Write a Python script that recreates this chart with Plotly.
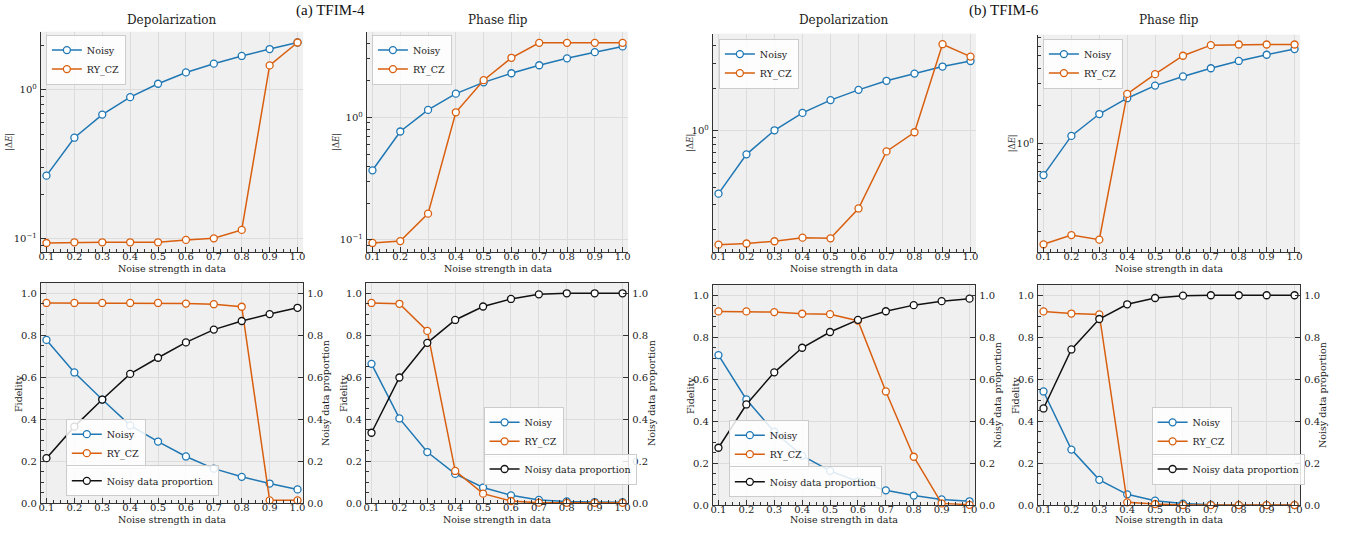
import math
import plotly.graph_objects as go

W, H = 1351, 535

# ---------------- data ----------------
noise_strength = [0.1, 0.2, 0.3, 0.4, 0.5, 0.6, 0.7, 0.8, 0.9, 1.0]

# |ΔE| (top row)
de_tfim4_dep_noisy = [0.266, 0.478, 0.683, 0.894, 1.10, 1.31, 1.50, 1.69, 1.88, 2.08]
de_tfim4_dep_rycz = [0.094, 0.095, 0.095, 0.095, 0.095, 0.0986, 0.101, 0.115, 1.46, 2.08]
de_tfim4_pf_noisy = [0.370, 0.767, 1.15, 1.56, 1.93, 2.29, 2.66, 3.03, 3.40, 3.79]
de_tfim4_pf_rycz = [0.0946, 0.098, 0.164, 1.10, 2.01, 3.06, 4.05, 4.05, 4.05, 4.05]
de_tfim6_dep_noisy = [0.360, 0.683, 1.01, 1.34, 1.65, 1.95, 2.26, 2.54, 2.85, 3.12]
de_tfim6_dep_rycz = [0.157, 0.160, 0.166, 0.176, 0.174, 0.283, 0.716, 0.978, 4.10, 3.35]
de_tfim6_pf_noisy = [0.560, 1.15, 1.72, 2.30, 2.90, 3.43, 3.99, 4.56, 5.11, 5.67]
de_tfim6_pf_rycz = [0.157, 0.186, 0.171, 2.49, 3.58, 5.02, 6.10, 6.17, 6.17, 6.17]

# Fidelity (bottom row)
fid_tfim4_dep_noisy = [0.778, 0.623, 0.494, 0.371, 0.294, 0.223, 0.165, 0.126, 0.094, 0.066]
fid_tfim4_dep_rycz = [0.954, 0.954, 0.954, 0.954, 0.954, 0.951, 0.948, 0.936, 0.014, 0.014]
prop_tfim4_dep = [0.215, 0.365, 0.494, 0.616, 0.693, 0.766, 0.827, 0.868, 0.901, 0.931]
fid_tfim4_pf_noisy = [0.664, 0.404, 0.244, 0.140, 0.075, 0.038, 0.016, 0.009, 0.006, 0.005]
fid_tfim4_pf_rycz = [0.954, 0.950, 0.821, 0.154, 0.046, 0.011, 0.003, 0.002, 0.002, 0.002]
prop_tfim4_pf = [0.336, 0.599, 0.764, 0.873, 0.937, 0.973, 0.995, 1.0, 1.0, 1.0]
fid_tfim6_dep_noisy = [0.715, 0.504, 0.350, 0.236, 0.164, 0.113, 0.071, 0.046, 0.028, 0.019]
fid_tfim6_dep_rycz = [0.923, 0.923, 0.920, 0.912, 0.910, 0.879, 0.542, 0.231, 0.009, 0.002]
prop_tfim6_dep = [0.274, 0.480, 0.633, 0.750, 0.825, 0.883, 0.924, 0.953, 0.972, 0.984]
fid_tfim6_pf_noisy = [0.542, 0.265, 0.121, 0.052, 0.022, 0.008, 0.003, 0.001, 0.001, 0.001]
fid_tfim6_pf_rycz = [0.923, 0.913, 0.909, 0.014, 0.006, 0.001, 0.001, 0.001, 0.001, 0.001]
prop_tfim6_pf = [0.461, 0.742, 0.887, 0.957, 0.987, 0.998, 1.0, 1.0, 1.0, 1.0]

x_tick_vals = [0.1, 0.2, 0.3, 0.4, 0.5, 0.6, 0.7, 0.8, 0.9, 1.0]
x_tick_text = ["0.1", "0.2", "0.3", "0.4", "0.5", "0.6", "0.7", "0.8", "0.9", "1.0"]
log_tick_vals = [0.1, 1, 10]
log_tick_text = ["10<sup>\u22121</sup>", "10<sup>0</sup>", "10<sup>1</sup>"]
log_minor_vals = [m * d for d in (0.01, 0.1, 1) for m in range(2, 10)]
lin_tick_vals = [0.0, 0.2, 0.4, 0.6, 0.8, 1.0]
lin_tick_text = ["0.0", "0.2", "0.4", "0.6", "0.8", "1.0"]

subplot_titles = ["Depolarization", "Phase flip", "Depolarization", "Phase flip"]
group_titles = ["(a) TFIM-4", "(b) TFIM-6"]

# ---------------- style ----------------
BLUE = "#1f77b4"
ORANGE = "#d95f0e"
BLACK = "#111111"
FONT = "DejaVu Serif"
AX = "#333333"
GRID = "#dcdcdc"
TXT = "#222222"

# panel boxes in pixels: left, right, top, bottom
top_boxes = [(39, 302, 32, 255), (366, 628, 32, 255), (713, 977, 34, 255), (1039, 1302, 35, 255)]
bot_boxes = [(39, 302, 286, 509), (365, 628, 286, 509), (713, 976, 288, 511), (1039, 1302, 288, 511)]
top_ranges = [(0.0816, 2.46), (0.0796, 5.0), (0.139, 4.87), (0.136, 7.4)]
top_legend_pos = [(44, 35), (371, 35), (719, 39), (1044, 39)]
# (x, bottom y) of the two legends in each lower panel
bot_legend_pos = [((64, 474), (64, 502)), ((483, 462), (483, 490)),
                  ((729, 475), (729, 503)), ((1153, 462), (1153, 490))]
ytitle_top_x = [8, 336, 691, 1013]
ytitle_bot_x = [16, 342, 690, 1016]
ytitle_right_x = [324, 651, 998, 1324]


def px_x(a):
    return a / W


def px_y(a):
    return 1 - a / H


top_data = [(de_tfim4_dep_noisy, de_tfim4_dep_rycz), (de_tfim4_pf_noisy, de_tfim4_pf_rycz),
            (de_tfim6_dep_noisy, de_tfim6_dep_rycz), (de_tfim6_pf_noisy, de_tfim6_pf_rycz)]
bot_data = [(fid_tfim4_dep_noisy, fid_tfim4_dep_rycz, prop_tfim4_dep),
            (fid_tfim4_pf_noisy, fid_tfim4_pf_rycz, prop_tfim4_pf),
            (fid_tfim6_dep_noisy, fid_tfim6_dep_rycz, prop_tfim6_dep),
            (fid_tfim6_pf_noisy, fid_tfim6_pf_rycz, prop_tfim6_pf)]

fig = go.Figure()
layout = dict(
    width=W, height=H, margin=dict(l=0, r=0, t=0, b=0),
    paper_bgcolor="white", plot_bgcolor="#f0f0f0",
    font=dict(family=FONT, size=10, color=TXT),
    showlegend=True,
)
annotations = []


def text_at(text, cx, cy, size, angle=0, family=FONT, color=TXT):
    annotations.append(dict(text=text, x=px_x(cx), y=px_y(cy), xref="paper", yref="paper",
                            xanchor="center", yanchor="middle", showarrow=False,
                            textangle=angle, font=dict(size=size, family=family, color=color)))


def line_trace(x, y, name, color, xa, ya, legend):
    return go.Scatter(
        x=x, y=y, name=name, mode="lines+markers",
        line=dict(color=color, width=1.5),
        marker=dict(symbol="circle", size=7, color="white", line=dict(color=color, width=1.3)),
        xaxis=xa, yaxis=ya, legend=legend, cliponaxis=False,
    )


def key(prefix, n):
    return prefix if n == 1 else f"{prefix}{n}"


def xaxis_common(box, anchor, mirror):
    l, r, t, b = box
    return dict(
        domain=[px_x(l), px_x(r)], anchor=anchor, range=[0.08, 1.02],
        tickmode="array", tickvals=x_tick_vals, ticktext=x_tick_text,
        ticks="inside", ticklen=5, tickwidth=1, tickcolor=AX,
        showline=True, linecolor=AX, linewidth=1.2, mirror=mirror,
        showgrid=True, gridcolor=GRID, gridwidth=1, zeroline=False,
        minor=dict(tickmode="linear", tick0=0.1, dtick=0.025, ticks="inside",
                   ticklen=3, tickcolor=AX, showgrid=False),
        tickfont=dict(size=10, family=FONT, color=TXT),
        ticklabelstandoff=-5,
    )


def legend_cfg(x, y, yanchor):
    return dict(
        x=px_x(x), y=px_y(y), xanchor="left", yanchor=yanchor,
        bgcolor="rgba(255,255,255,0.85)", bordercolor="#cccccc", borderwidth=1,
        font=dict(size=9.5, family=FONT, color=TXT),
        tracegroupgap=0, itemwidth=30,
    )


legend_n = 0

# top row
for i in range(4):
    n = i + 1
    xa, ya = key("x", n), key("y", n)
    box = top_boxes[i]
    l, r, t, b = box
    legend_n += 1
    lg = key("legend", legend_n)
    layout[lg] = legend_cfg(top_legend_pos[i][0], top_legend_pos[i][1], "top")
    noisy, rycz = top_data[i]
    fig.add_trace(line_trace(noise_strength, noisy, "Noisy", BLUE, xa, ya, lg))
    fig.add_trace(line_trace(noise_strength, rycz, "RY_CZ", ORANGE, xa, ya, lg))
    layout[key("xaxis", n)] = xaxis_common(box, ya, False)
    lo, hi = top_ranges[i]
    layout[key("yaxis", n)] = dict(
        domain=[px_y(b), px_y(t)], anchor=xa, type="log",
        range=[math.log10(lo), math.log10(hi)],
        tickmode="array", tickvals=log_tick_vals, ticktext=log_tick_text,
        ticks="inside", ticklen=5, tickcolor=AX,
        showline=True, linecolor=AX, linewidth=1.2, mirror=False,
        showgrid=True, gridcolor=GRID, zeroline=False,
        minor=dict(tickmode="array", tickvals=log_minor_vals, ticks="inside",
                   ticklen=3, tickcolor=AX, showgrid=False),
        tickfont=dict(size=10, family=FONT, color=TXT),
        ticklabelstandoff=1,
    )
    text_at(subplot_titles[i], (l + r) / 2, 20.5, 12)
    text_at("Noise strength in data", (l + r) / 2, 272, 9.5)
    text_at("|\u0394<i>E</i>|", ytitle_top_x[i], (t + b) / 2, 8.5, angle=-90, color="#333333")

# bottom row
for i in range(4):
    n = i + 5
    xa, ya = key("x", n), key("y", n)
    rn = i + 9
    ra = key("y", rn)
    box = bot_boxes[i]
    l, r, t, b = box
    noisy, rycz, prop = bot_data[i]
    legend_n += 1
    lg1 = key("legend", legend_n)
    layout[lg1] = legend_cfg(bot_legend_pos[i][0][0], bot_legend_pos[i][0][1], "bottom")
    legend_n += 1
    lg2 = key("legend", legend_n)
    layout[lg2] = legend_cfg(bot_legend_pos[i][1][0], bot_legend_pos[i][1][1], "bottom")
    fig.add_trace(line_trace(noise_strength, noisy, "Noisy", BLUE, xa, ya, lg1))
    fig.add_trace(line_trace(noise_strength, rycz, "RY_CZ", ORANGE, xa, ya, lg1))
    fig.add_trace(line_trace(noise_strength, prop, "Noisy data proportion", BLACK, xa, ra, lg2))
    layout[key("xaxis", n)] = xaxis_common(box, ya, True)
    ycommon = dict(
        range=[0, 1.05], tickmode="array", tickvals=lin_tick_vals, ticktext=lin_tick_text,
        ticks="inside", ticklen=5, tickcolor=AX,
        showline=True, linecolor=AX, linewidth=1.2, zeroline=False,
        tickfont=dict(size=10, family=FONT, color=TXT),
        ticklabelstandoff=1,
    )
    layout[key("yaxis", n)] = dict(
        domain=[px_y(b), px_y(t)], anchor=xa, side="left",
        showgrid=True, gridcolor=GRID,
        minor=dict(tickmode="linear", tick0=0, dtick=0.05, ticks="inside",
                   ticklen=3, tickcolor=AX, showgrid=False),
        **ycommon,
    )
    layout[key("yaxis", rn)] = dict(
        overlaying=ya, anchor=xa, side="right", showgrid=False,
        **ycommon,
    )
    text_at("Noise strength in data", (l + r) / 2, 525, 9.5)
    text_at("Fidelity", ytitle_bot_x[i], (t + b) / 2, 9.5, angle=-90)
    text_at("Noisy data proportion", ytitle_right_x[i], (t + b) / 2, 9.5, angle=-90)

# group titles
for title, cx in zip(group_titles, [329, 1005]):
    text_at(title, cx, 11, 15, family="Liberation Serif", color="#111111")

layout["annotations"] = annotations
fig.update_layout(**layout)
fig.write_html(
    "out.html",
    config={"displayModeBar": False},
    post_script="document.body.style.margin='0px';document.body.style.overflow='hidden';",
)
